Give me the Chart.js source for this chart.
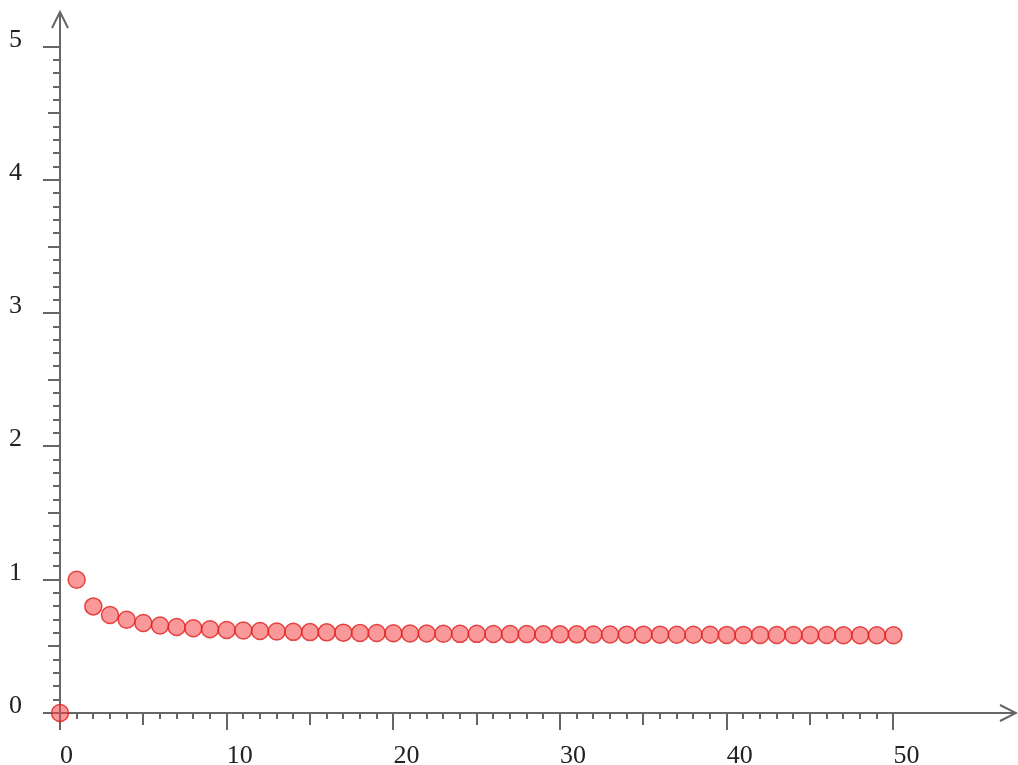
<!DOCTYPE html>
<html>
<head>
<meta charset="utf-8">
<script src="https://cdn.jsdelivr.net/npm/chart.js@4.4.1/dist/chart.umd.min.js"></script>
<style>
  html, body { margin: 0; padding: 0; background: #fff; overflow: hidden; }
  #wrap { width: 1018px; height: 765px; position: relative; }
  #seqChart { display: block; }
</style>
</head>
<body>
<div id="wrap"><canvas id="seqChart"></canvas></div>
<script>
// sequence values
const xValues = [0, 1, 2, 3, 4, 5, 6, 7, 8, 9, 10, 11, 12, 13, 14, 15, 16, 17, 18, 19, 20,
  21, 22, 23, 24, 25, 26, 27, 28, 29, 30, 31, 32, 33, 34, 35, 36, 37, 38, 39, 40,
  41, 42, 43, 44, 45, 46, 47, 48, 49, 50];
const yValues = [0, 1.0, 0.80, 0.735, 0.70, 0.675, 0.657, 0.645, 0.636, 0.629, 0.623,
  0.619, 0.615, 0.612, 0.609, 0.607, 0.605, 0.603, 0.601, 0.600, 0.599,
  0.597, 0.596, 0.595, 0.594, 0.594, 0.593, 0.592, 0.592, 0.591, 0.590,
  0.590, 0.589, 0.589, 0.588, 0.588, 0.588, 0.587, 0.587, 0.587, 0.586,
  0.586, 0.586, 0.585, 0.585, 0.585, 0.585, 0.584, 0.584, 0.584, 0.584];
const xTickLabels = [0, 10, 20, 30, 40, 50];
const yTickLabels = [0, 1, 2, 3, 4, 5];

const points = xValues.map((x, i) => ({ x: x, y: yValues[i] }));

const axisColor = '#666';
const labelFont = '26px "Liberation Serif", "DejaVu Serif", serif';

// hand drawn axes with arrows and minor ticks, positioned through the chart scales
const arrowAxes = {
  id: 'arrowAxes',
  beforeDatasetsDraw(chart) {
    const ctx = chart.ctx;
    const xs = chart.scales.x;
    const ys = chart.scales.y;
    const ox = xs.getPixelForValue(0);
    const oy = ys.getPixelForValue(0);
    const right = xs.getPixelForValue(xs.max);
    const top = ys.getPixelForValue(ys.max);

    ctx.save();
    ctx.strokeStyle = axisColor;
    ctx.lineWidth = 2;

    ctx.beginPath();
    ctx.moveTo(ox, oy);
    ctx.lineTo(right, oy);
    ctx.moveTo(ox, oy);
    ctx.lineTo(ox, top);
    // arrow heads
    ctx.moveTo(ox - 8, top + 16);
    ctx.lineTo(ox, top);
    ctx.lineTo(ox + 8, top + 16);
    ctx.moveTo(right - 16, oy - 8);
    ctx.lineTo(right, oy);
    ctx.lineTo(right - 16, oy + 8);
    ctx.stroke();

    // x ticks every 1 up to 50
    ctx.beginPath();
    for (let i = 0; i <= 50; i++) {
      const px = Math.round(xs.getPixelForValue(i));
      const len = i % 10 === 0 ? 17 : (i % 5 === 0 ? 12 : 6);
      ctx.moveTo(px, oy);
      ctx.lineTo(px, oy + len);
    }
    // y ticks every 0.1 up to 5
    for (let i = 0; i <= 50; i++) {
      const py = Math.round(ys.getPixelForValue(i / 10));
      const len = i % 10 === 0 ? 17 : (i % 5 === 0 ? 12 : 7);
      ctx.moveTo(ox, py);
      ctx.lineTo(ox - len, py);
    }
    ctx.stroke();

    ctx.fillStyle = '#222';
    ctx.font = labelFont;
    ctx.textAlign = 'left';
    ctx.textBaseline = 'alphabetic';
    xTickLabels.forEach(v => {
      ctx.fillText(String(v), xs.getPixelForValue(v), oy + 50);
    });
    yTickLabels.forEach(v => {
      ctx.fillText(String(v), 9, ys.getPixelForValue(v));
    });
    ctx.restore();
  }
};

new Chart(document.getElementById('seqChart'), {
  type: 'scatter',
  data: {
    datasets: [{
      data: points,
      pointRadius: 8.5,
      pointHoverRadius: 8.5,
      pointBackgroundColor: 'rgba(245, 70, 70, 0.55)',
      pointBorderColor: 'rgba(225, 30, 30, 0.8)',
      pointBorderWidth: 1.5,
      clip: false
    }]
  },
  options: {
    responsive: true,
    maintainAspectRatio: false,
    animation: false,
    layout: {
      autoPadding: false,
      padding: { left: 60, right: 2, top: 12, bottom: 52 }
    },
    scales: {
      x: { type: 'linear', min: 0, max: 57.35, display: false },
      y: { type: 'linear', min: 0, max: 5.26, display: false }
    },
    plugins: {
      legend: { display: false },
      tooltip: { enabled: false }
    }
  },
  plugins: [arrowAxes]
});
</script>
</body>
</html>
